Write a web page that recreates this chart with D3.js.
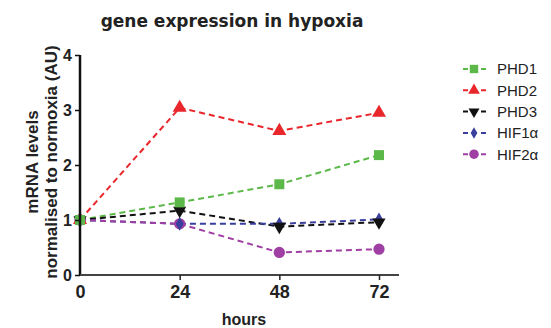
<!DOCTYPE html>
<html><head><meta charset="utf-8">
<script src="https://cdn.jsdelivr.net/npm/d3@7"></script>
<style>body{margin:0;background:#fff}svg{display:block}</style>
</head><body>
<script>
const hours = [0, 24, 48, 72];
const xTicks = [0, 24, 48, 72];
const yTicks = [0, 1, 2, 3, 4];
const seriesNames = ["PHD1", "PHD2", "PHD3", "HIF1α", "HIF2α"];
const phd1 = [1.0, 1.32, 1.65, 2.18];
const phd2 = [1.0, 3.04, 2.62, 2.95];
const phd3 = [1.0, 1.17, 0.88, 0.96];
const hif1a = [1.0, 0.93, 0.93, 1.01];
const hif2a = [1.0, 0.93, 0.41, 0.47];
const colors = ["#5cb848", "#e8262c", "#111111", "#3a3f9e", "#a03fa3"];
const shapes = [d3.symbolSquare, d3.symbolTriangle, "down", d3.symbolDiamond, d3.symbolCircle];

const W = 551, H = 328;
const svg = d3.select("body").append("svg").attr("width", W).attr("height", H);
const x = d3.scaleLinear().domain([0, 72]).range([80, 379]);
const y = d3.scaleLinear().domain([0, 4]).range([275, 55]);

const allSeries = [phd1, phd2, phd3, hif1a, hif2a];

// title
svg.append("text").attr("x", 232).attr("y", 27).attr("text-anchor", "middle")
  .attr("font-family", "DejaVu Sans").attr("font-weight", "bold").attr("font-size", 17)
  .attr("fill", "#222").text("gene expression in hypoxia");

// lines
const line = d3.line().x((d, i) => x(hours[i])).y(d => y(d));
allSeries.forEach((s, k) => {
  svg.append("path").datum(s).attr("d", line).attr("fill", "none")
    .attr("stroke", colors[k]).attr("stroke-width", 2).attr("stroke-dasharray", "6,4");
});

function symPath(k, size) {
  if (shapes[k] === "down") return d3.symbol().type(d3.symbolTriangle).size(size)();
  return d3.symbol().type(shapes[k]).size(size)();
}
const sizes = [100, 85, 75, 55, 100];
[4, 3, 2, 1, 0].forEach(k => {
  svg.selectAll(null).data(allSeries[k]).enter().append("path")
    .attr("d", symPath(k, sizes[k]))
    .attr("transform", (d, i) => `translate(${x(hours[i])},${y(d)})` + (shapes[k] === "down" ? " rotate(180)" : ""))
    .attr("fill", colors[k]);
});

// axes
const yAxis = svg.append("g").attr("transform", "translate(80,0)")
  .call(d3.axisLeft(y).tickValues(yTicks).tickSize(5).tickPadding(3).tickFormat(d3.format("d")));
yAxis.select(".domain").attr("stroke", "#111").attr("stroke-width", 2.5).attr("d", "M0,55V275");
yAxis.selectAll(".tick line").attr("stroke", "#111").attr("stroke-width", 1.5);
yAxis.selectAll("text").attr("font-family", "Liberation Sans").attr("font-weight", "bold")
  .attr("font-size", 16).attr("fill", "#222").attr("dy", "0.35em");

const xAxis = svg.append("g").attr("transform", "translate(0,275)")
  .call(d3.axisBottom(x).tickValues(xTicks).tickSize(5).tickPadding(5).tickFormat(d3.format("d")));
xAxis.select(".domain").attr("stroke", "#444").attr("stroke-width", 1.8).attr("d", "M80,0H399");
xAxis.selectAll(".tick line").attr("stroke", "#222").attr("stroke-width", 1.5);
xAxis.selectAll(".tick").filter(d => d === 0).select("line").remove();
xAxis.selectAll("text").attr("font-family", "Liberation Sans").attr("font-weight", "bold")
  .attr("font-size", 18).attr("fill", "#222");

// axis titles
svg.append("text").attr("x", 244).attr("y", 325).attr("text-anchor", "middle")
  .attr("font-family", "Liberation Sans").attr("font-weight", "bold").attr("font-size", 16)
  .attr("fill", "#222").text("hours");
const yl = svg.append("text").attr("transform", "translate(0,162) rotate(-90)")
  .attr("text-anchor", "middle").attr("font-family", "Liberation Sans").attr("font-weight", "bold")
  .attr("font-size", 17).attr("fill", "#222");
yl.append("tspan").attr("x", 0).attr("y", 38).text("mRNA levels");
yl.append("tspan").attr("x", 0).attr("y", 57).text("normalised to normoxia (AU)");

// legend
const lg = svg.append("g");
seriesNames.forEach((n, k) => {
  const ly = 69 + k * 21.3;
  lg.append("line").attr("x1", 463).attr("x2", 486).attr("y1", ly).attr("y2", ly)
    .attr("stroke", colors[k]).attr("stroke-width", 2).attr("stroke-dasharray", "5,4");
  lg.append("path").attr("d", symPath(k, sizes[k] * 0.7))
    .attr("transform", `translate(474,${ly})` + (shapes[k] === "down" ? " rotate(180)" : ""))
    .attr("fill", colors[k]);
  lg.append("text").attr("x", 497).attr("y", ly).attr("dy", "0.36em")
    .attr("font-family", "Liberation Sans").attr("font-size", 15).attr("fill", "#222").text(n);
});
</script>
</body></html>
